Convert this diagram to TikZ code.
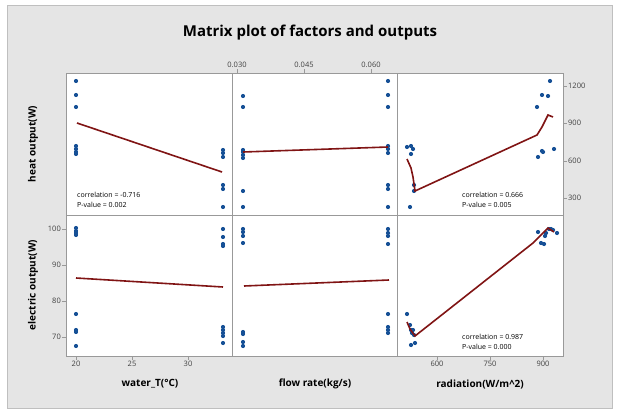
\documentclass[tikz,border=0pt]{standalone}
\usepackage{fontspec}
\setmainfont{Open Sans}
\usetikzlibrary{positioning}
\definecolor{dotblue}{RGB}{22,80,150}
\definecolor{fitred}{RGB}{128,20,20}
\definecolor{panelgray}{RGB}{229,229,229}
\begin{document}
\begin{tikzpicture}[x=1pt, y=-1pt,
    dot/.style={fill=dotblue, draw=none},
    fitline/.style={fitred, line width=1.6pt},
    ticklab/.style={font=\fontsize{7.5}{8}\selectfont, text=black!75, inner sep=1pt},
    axlab/.style={font=\bfseries\fontsize{10}{11}\selectfont},
    stat/.style={font=\fontsize{7}{7}\selectfont, anchor=west, inner sep=0pt}]
  \useasboundingbox (0,0) rectangle (619,415);
  \fill[white] (0,0) rectangle (619,415);
  \draw[black!25, fill=panelgray] (7,5) rectangle (612,408);
  % plot area
  \fill[white] (66,73) rectangle (563,356);
  \draw[black!40] (66,73) rectangle (563,356);
  \draw[black!40] (232,73) -- (232,356) (397,73) -- (397,356) (66,215) -- (563,215);
  \node[font=\bfseries\fontsize{15}{17}\selectfont] (title) at (310,33) {Matrix plot of factors and outputs};
  % ticks
  \foreach \x/\l in {76/20, 132/25, 188/30, 437/600, 490/750, 543/900}
    \draw[black!40] (\x,356) -- (\x,360) node[ticklab, below] {\l};
  \foreach \x/\l in {237/0.030, 304/0.045, 371/0.060}
    \draw[black!40] (\x,73) -- (\x,69) node[ticklab, above] {\l};
  \foreach \y/\l in {229/100, 265/90, 301/80, 337/70}
    \draw[black!40] (66,\y) -- (62,\y) node[ticklab, left] {\l};
  \foreach \y/\l in {86/1200, 123/900, 161/600, 198/300}
    \draw[black!40] (563,\y) -- (567,\y) node[ticklab, right] {\l};
  % axis labels
  \node[axlab, rotate=90] (heat) at (33,144) {heat output(W)};
  \node[axlab, rotate=90] (elec) at (33,285) {electric output(W)};
  \node[axlab] (water) at (150,384) {water\_T(°C)};
  \node[axlab] (flow) at (315,384) {flow rate(kg/s)};
  \node[axlab] (rad) at (480,384) {radiation(W/m\^{}2)};
  % heat output row
  \foreach \x/\y in {76/81, 76/95, 76/107, 76/146, 76/149, 76/152, 76/154,
      223/150, 223/153, 223/157, 223/185, 223/189, 223/207,
      243/96, 243/107, 243/150, 243/152, 243/155, 243/158, 243/191, 243/207,
      388/81, 388/95, 388/107, 388/146, 388/149, 388/153, 388/185, 388/189, 388/207,
      407/147, 411/146, 413/149, 411/154, 414/185, 414/191, 410/207,
      537/107, 538/157, 542/151, 543/152, 542/95, 548/96, 550/81, 554/149}
    \fill[dot] (\x,\y) circle (2.1);
  \draw[fitline] (77,123) -- (222,172);
  \draw[fitline] (243,152) -- (388,147);
  \draw[fitline] (407,159) -- (411,168) -- (413,177) -- (415,191) -- (537,135)
      -- (542,127) -- (548,115) -- (553,117);
  % electric output row
  \foreach \x/\y in {76/228, 76/231, 76/233, 76/235, 76/314, 76/330, 76/332, 76/346,
      223/229, 223/237, 223/244, 223/246, 223/327, 223/330, 223/333, 223/336, 223/343,
      243/229, 243/232, 243/236, 243/243, 243/332, 243/334, 243/342, 243/346,
      388/229, 388/233, 388/236, 388/244, 388/314, 388/327, 388/330, 388/333,
      407/314, 410/325, 411/330, 413/330, 412/333, 414/335, 411/345, 415/343,
      538/232, 541/243, 544/244, 545/236, 546/233, 549/229, 551/229, 553/230, 557/233}
    \fill[dot] (\x,\y) circle (2.1);
  \draw[fitline] (76,278) -- (223,287);
  \draw[fitline] (244,286) -- (389,280);
  \draw[fitline] (407,322) -- (410,329) -- (415,336) -- (533,243) -- (548,228) -- (554,232);
  % statistics
  \node[stat] (c1) at (77,195) {correlation = -0.716};
  \node[stat, below=4pt of c1.south west, anchor=north west] (p1) {P-value = 0.002};
  \node[stat] (c2) at (462,195) {correlation = 0.666};
  \node[stat, below=4pt of c2.south west, anchor=north west] (p2) {P-value = 0.005};
  \node[stat] (c3) at (462,337) {correlation = 0.987};
  \node[stat, below=4pt of c3.south west, anchor=north west] (p3) {P-value = 0.000};
\end{tikzpicture}
\end{document}
